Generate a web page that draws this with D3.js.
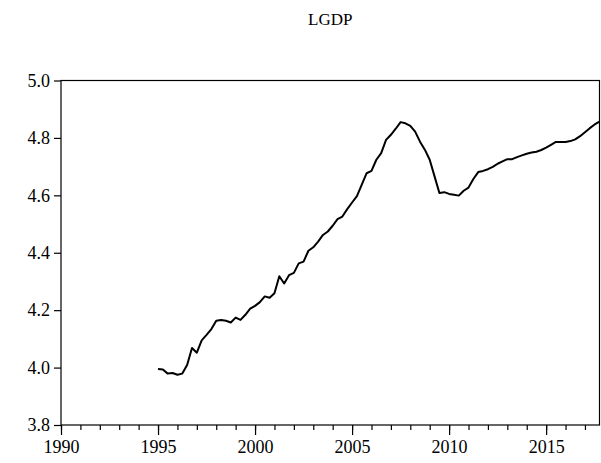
<!DOCTYPE html>
<html>
<head>
<meta charset="utf-8">
<script src="https://cdn.jsdelivr.net/npm/d3@7"></script>
<style>
body { margin: 0; background: #fff; }
svg { display: block; }
</style>
</head>
<body>
<svg id="chart" width="601" height="463"></svg>
<script>
// LGDP, quarterly from 1995Q1
const title = "LGDP";
const startYear = 1995;
const lgdp = [
  3.995, 3.993, 3.979, 3.981, 3.975, 3.979, 4.009, 4.068,
  4.052, 4.095, 4.114, 4.134, 4.163, 4.166, 4.163, 4.157,
  4.174, 4.166, 4.184, 4.205, 4.215, 4.228, 4.248, 4.243,
  4.259, 4.318, 4.293, 4.322, 4.330, 4.363, 4.369, 4.407,
  4.419, 4.439, 4.462, 4.474, 4.494, 4.517, 4.526, 4.552,
  4.575, 4.597, 4.637, 4.677, 4.685, 4.724, 4.747, 4.793,
  4.811, 4.832, 4.855, 4.851, 4.842, 4.822, 4.787, 4.759,
  4.724, 4.666, 4.608, 4.611, 4.605, 4.602, 4.599, 4.616,
  4.627, 4.657, 4.681, 4.685, 4.691, 4.699, 4.710, 4.718,
  4.726, 4.726, 4.733, 4.739, 4.745, 4.749, 4.752, 4.758,
  4.766, 4.776, 4.786, 4.786, 4.786, 4.789, 4.795, 4.806,
  4.820, 4.834, 4.847, 4.857
];
const xLabelYears = [1990, 1995, 2000, 2005, 2010, 2015];
const xMinorYears = d3.range(1990, 2018);
const yTicks = [3.8, 4.0, 4.2, 4.4, 4.6, 4.8, 5.0];

const plot = { left: 61, right: 599.5, top: 80.5, bottom: 425 };
const serif = "'Liberation Serif', 'Times New Roman', serif";

const x = d3.scaleLinear().domain([1990, 2017.75]).range([plot.left, plot.right]);
const y = d3.scaleLinear().domain([3.8, 5.0]).range([plot.bottom, plot.top]);

const svg = d3.select("#chart");

svg.append("text")
  .attr("x", (plot.left + plot.right) / 2)
  .attr("y", 25)
  .attr("text-anchor", "middle")
  .style("font-family", serif)
  .style("font-size", "17px")
  .attr("fill", "#000")
  .text(title);

// frame
svg.append("rect")
  .attr("x", plot.left).attr("y", plot.top)
  .attr("width", plot.right - plot.left).attr("height", plot.bottom - plot.top)
  .attr("fill", "none")
  .attr("stroke", "#000")
  .attr("stroke-width", 1.2);

const styleAxis = g => {
  g.select(".domain").remove();
  g.attr("font-family", serif).attr("font-size", 18);
  g.selectAll("text").style("font-family", serif).style("font-size", "18px").attr("fill", "#000");
  g.selectAll("line").attr("stroke", "#000").attr("stroke-width", 1.2);
};

// y axis
svg.append("g")
  .attr("transform", `translate(${plot.left},0)`)
  .call(d3.axisLeft(y).tickValues(yTicks).tickFormat(d3.format(".1f")).tickSize(7).tickPadding(4))
  .call(styleAxis);

// x axis: yearly minor ticks, longer ticks every 5 years
svg.append("g")
  .attr("transform", `translate(0,${plot.bottom})`)
  .call(d3.axisBottom(x).tickValues(xMinorYears).tickFormat("").tickSize(5))
  .call(styleAxis);

svg.append("g")
  .attr("transform", `translate(0,${plot.bottom})`)
  .call(d3.axisBottom(x).tickValues(xLabelYears).tickFormat(d3.format("d")).tickSize(10).tickPadding(5))
  .call(styleAxis);

const line = d3.line()
  .x((d, i) => x(startYear + i / 4))
  .y(d => y(d));

svg.append("path")
  .datum(lgdp)
  .attr("d", line)
  .attr("fill", "none")
  .attr("stroke", "#000")
  .attr("stroke-width", 2)
  .attr("stroke-linejoin", "round");
</script>
</body>
</html>
